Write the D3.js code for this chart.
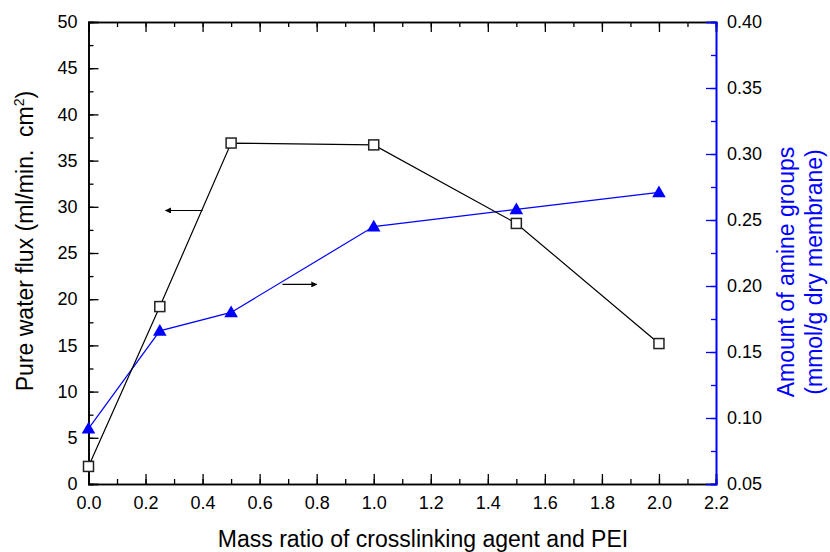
<!DOCTYPE html>
<html>
<head>
<meta charset="utf-8">
<script src="https://cdn.jsdelivr.net/npm/d3@7"></script>
<style>
    body { margin: 0; background: #fff; }
    svg text { font-family: Arial, "Liberation Sans", sans-serif; }
    .tickLabel { font-size: 18px; fill: #000; }
    .axisTitle { font-size: 23px; }
</style>
</head>
<body>
<div id="chart"></div>
<script>
// mass ratio of crosslinking agent / PEI
var massRatio = [0, 0.25, 0.5, 1.0, 1.5, 2.0];
// pure water flux, left axis
var waterFlux = [1.9, 19.2, 36.9, 36.7, 28.2, 15.2];
// amine groups, right axis
var amineGroups = [0.092, 0.166, 0.180, 0.245, 0.258, 0.271];

var xTicks = [0, 0.2, 0.4, 0.6, 0.8, 1.0, 1.2, 1.4, 1.6, 1.8, 2.0, 2.2];
var leftTicks = [0, 5, 10, 15, 20, 25, 30, 35, 40, 45, 50];
var rightTicks = [0.05, 0.10, 0.15, 0.20, 0.25, 0.30, 0.35, 0.40];

// the two little arrows telling which axis belongs to which curve
var arrowFrom = [[0.40, 29.6], [0.68, 21.6]];
var arrowTo = [[0.27, 29.6], [0.80, 21.6]];

function DualAxisChart(){
    var self = this;
    self.init();
};

DualAxisChart.prototype.init = function(){
    var self = this;
    self.width = 830;
    self.height = 552;
    self.plot = {left: 88.5, right: 716, top: 22, bottom: 484};

    self.svg = d3.select("#chart").append("svg")
        .attr("width", self.width)
        .attr("height", self.height);

    var defs = self.svg.append("defs");
    defs.append("marker")
        .attr("id", "arrowHead")
        .attr("viewBox", "0 0 10 10")
        .attr("refX", 9).attr("refY", 5)
        .attr("markerWidth", 10).attr("markerHeight", 6)
        .attr("markerUnits", "userSpaceOnUse")
        .attr("orient", "auto")
        .append("path")
        .attr("d", "M0,0 L10,5 L0,10 z")
        .attr("fill", "#000");
};

DualAxisChart.prototype.update = function(){
    var self = this;
    var p = self.plot;

    var xScale = d3.scaleLinear().domain([0, 2.2]).range([p.left, p.right]);
    var yLeft = d3.scaleLinear().domain([0, 50]).range([p.bottom, p.top]);
    var yRight = d3.scaleLinear().domain([0.05, 0.40]).range([p.bottom, p.top]);

    var xMinor = d3.range(0, 2.2001, 0.1);
    var leftMinor = d3.range(0, 50.001, 2.5);
    var rightMinor = d3.range(0.05, 0.4001, 0.025);

    //ticks without labels (minor ones and the top axis)
    function tickAxis(axisFn, scale, values, size){
        return axisFn(scale).tickValues(values).tickSize(size).tickFormat("");
    }

    // bottom
    self.svg.append("g").attr("transform", "translate(0," + p.bottom + ")")
        .call(tickAxis(d3.axisBottom, xScale, xMinor, -5));
    self.svg.append("g").attr("transform", "translate(0," + p.bottom + ")")
        .call(d3.axisBottom(xScale).tickValues(xTicks).tickSize(-10).tickPadding(12)
            .tickFormat(d3.format(".1f")));
    // top
    self.svg.append("g").attr("transform", "translate(0," + p.top + ")")
        .call(tickAxis(d3.axisTop, xScale, xMinor, -5));
    self.svg.append("g").attr("transform", "translate(0," + p.top + ")")
        .call(tickAxis(d3.axisTop, xScale, xTicks, -10));
    // left
    self.svg.append("g").attr("transform", "translate(" + p.left + ",0)")
        .call(tickAxis(d3.axisLeft, yLeft, leftMinor, -5));
    self.svg.append("g").attr("transform", "translate(" + p.left + ",0)")
        .call(d3.axisLeft(yLeft).tickValues(leftTicks).tickSize(-10).tickPadding(11)
            .tickFormat(d3.format("d")));
    // right, blue
    var gr1 = self.svg.append("g").attr("transform", "translate(" + p.right + ",0)")
        .call(tickAxis(d3.axisRight, yRight, rightMinor, -5));
    var gr = self.svg.append("g").attr("transform", "translate(" + p.right + ",0)")
        .call(d3.axisRight(yRight).tickValues(rightTicks).tickSize(-10).tickPadding(11)
            .tickFormat(d3.format(".2f")));

    self.svg.selectAll(".domain").attr("stroke", "#000").attr("stroke-width", 1.6);
    self.svg.selectAll(".tick line").attr("stroke", "#000").attr("stroke-width", 1.3);
    [gr1, gr].forEach(function(g){
        g.selectAll(".domain").attr("stroke", "#0000ff");
        g.selectAll(".tick line").attr("stroke", "#0000ff");
    });
    self.svg.selectAll(".tick text").attr("class", "tickLabel").attr("font-size", null)
        .attr("font-family", null).attr("fill", "#000");

    // data lines
    var flux = massRatio.map(function(d, i){ return {x: d, y: waterFlux[i]}; });
    var amine = massRatio.map(function(d, i){ return {x: d, y: amineGroups[i]}; });

    var lineLeft = d3.line().x(function(d){ return xScale(d.x); }).y(function(d){ return yLeft(d.y); });
    var lineRight = d3.line().x(function(d){ return xScale(d.x); }).y(function(d){ return yRight(d.y); });

    self.svg.append("path").datum(amine)
        .attr("d", lineRight).attr("fill", "none").attr("stroke", "#0000ff").attr("stroke-width", 1.2);
    self.svg.append("path").datum(flux)
        .attr("d", lineLeft).attr("fill", "none").attr("stroke", "#000").attr("stroke-width", 1.2);

    self.svg.selectAll("rect.flux").data(flux).enter().append("rect")
        .attr("class", "flux")
        .attr("x", function(d){ return xScale(d.x) - 5; })
        .attr("y", function(d){ return yLeft(d.y) - 5; })
        .attr("width", 10).attr("height", 10)
        .attr("fill", "#fff").attr("stroke", "#222").attr("stroke-width", 1.5);

    var tri = d3.symbol().type(d3.symbolTriangle).size(80);
    self.svg.selectAll("path.amine").data(amine).enter().append("path")
        .attr("class", "amine")
        .attr("d", tri)
        .attr("transform", function(d){ return "translate(" + xScale(d.x) + "," + (yRight(d.y) + 1) + ")"; })
        .attr("fill", "#0000ff");

    // arrows
    arrowFrom.forEach(function(a, i){
        self.svg.append("line")
            .attr("x1", xScale(a[0])).attr("y1", yLeft(a[1]))
            .attr("x2", xScale(arrowTo[i][0])).attr("y2", yLeft(arrowTo[i][1]))
            .attr("stroke", "#000").attr("stroke-width", 1.2)
            .attr("marker-end", "url(#arrowHead)");
    });

    // axis titles
    self.svg.append("text").attr("class", "axisTitle")
        .attr("x", 423).attr("y", 547)
        .attr("text-anchor", "middle")
        .text("Mass ratio of crosslinking agent and PEI");

    var lt = self.svg.append("text").attr("class", "axisTitle")
        .attr("transform", "translate(33,241) rotate(-90)")
        .attr("text-anchor", "middle");
    lt.append("tspan").text("Pure water flux (ml/min.\u00a0\u00a0cm");
    lt.append("tspan").attr("dy", -9).style("font-size", "14px").text("2");
    lt.append("tspan").attr("dy", 9).text(")");

    self.svg.append("text").attr("class", "axisTitle")
        .attr("transform", "translate(794,272) rotate(-90)")
        .attr("text-anchor", "middle").attr("fill", "#0000ff")
        .text("Amount of amine groups");
    self.svg.append("text").attr("class", "axisTitle")
        .attr("transform", "translate(822,272) rotate(-90)")
        .attr("text-anchor", "middle").attr("fill", "#0000ff")
        .text("(mmol/g dry membrane)");
};

var chart = new DualAxisChart();
chart.update();
</script>
</body>
</html>
